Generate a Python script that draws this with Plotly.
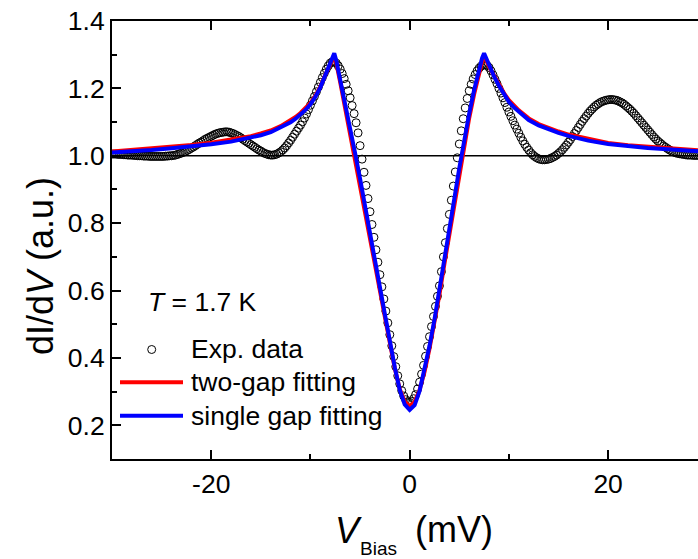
import plotly.graph_objects as go

# ---- measured tunnelling conductance (bias sweep, mV) ----
BIAS = [
    -30.0, -29.8, -29.6, -29.4, -29.2, -29.0, -28.8, -28.6, -28.4, -28.2,
    -28.0, -27.8, -27.6, -27.4, -27.2, -27.0, -26.8, -26.6, -26.4, -26.2,
    -26.0, -25.8, -25.6, -25.4, -25.2, -25.0, -24.8, -24.6, -24.4, -24.2,
    -24.0, -23.8, -23.6, -23.4, -23.2, -23.0, -22.8, -22.6, -22.4, -22.2,
    -22.0, -21.8, -21.6, -21.4, -21.2, -21.0, -20.8, -20.6, -20.4, -20.2,
    -20.0, -19.8, -19.6, -19.4, -19.2, -19.0, -18.8, -18.6, -18.4, -18.2,
    -18.0, -17.8, -17.6, -17.4, -17.2, -17.0, -16.8, -16.6, -16.4, -16.2,
    -16.0, -15.8, -15.6, -15.4, -15.2, -15.0, -14.8, -14.6, -14.4, -14.2,
    -14.0, -13.8, -13.6, -13.4, -13.2, -13.0, -12.8, -12.6, -12.4, -12.2,
    -12.0, -11.8, -11.6, -11.4, -11.2, -11.0, -10.8, -10.6, -10.4, -10.2,
    -10.0, -9.8, -9.6, -9.4, -9.2, -9.0, -8.8, -8.6, -8.4, -8.2,
    -8.0, -7.8, -7.6, -7.4, -7.2, -7.0, -6.8, -6.6, -6.4, -6.2,
    -6.0, -5.8, -5.6, -5.4, -5.2, -5.0, -4.8, -4.6, -4.4, -4.2,
    -4.0, -3.8, -3.6, -3.4, -3.2, -3.0, -2.8, -2.6, -2.4, -2.2,
    -2.0, -1.8, -1.6, -1.4, -1.2, -1.0, -0.8, -0.6, -0.4, -0.2,
    0.0, 0.2, 0.4, 0.6, 0.8, 1.0, 1.2, 1.4, 1.6, 1.8,
    2.0, 2.2, 2.4, 2.6, 2.8, 3.0, 3.2, 3.4, 3.6, 3.8,
    4.0, 4.2, 4.4, 4.6, 4.8, 5.0, 5.2, 5.4, 5.6, 5.8,
    6.0, 6.2, 6.4, 6.6, 6.8, 7.0, 7.2, 7.4, 7.6, 7.8,
    8.0, 8.2, 8.4, 8.6, 8.8, 9.0, 9.2, 9.4, 9.6, 9.8,
    10.0, 10.2, 10.4, 10.6, 10.8, 11.0, 11.2, 11.4, 11.6, 11.8,
    12.0, 12.2, 12.4, 12.6, 12.8, 13.0, 13.2, 13.4, 13.6, 13.8,
    14.0, 14.2, 14.4, 14.6, 14.8, 15.0, 15.2, 15.4, 15.6, 15.8,
    16.0, 16.2, 16.4, 16.6, 16.8, 17.0, 17.2, 17.4, 17.6, 17.8,
    18.0, 18.2, 18.4, 18.6, 18.8, 19.0, 19.2, 19.4, 19.6, 19.8,
    20.0, 20.2, 20.4, 20.6, 20.8, 21.0, 21.2, 21.4, 21.6, 21.8,
    22.0, 22.2, 22.4, 22.6, 22.8, 23.0, 23.2, 23.4, 23.6, 23.8,
    24.0, 24.2, 24.4, 24.6, 24.8, 25.0, 25.2, 25.4, 25.6, 25.8,
    26.0, 26.2, 26.4, 26.6, 26.8, 27.0, 27.2, 27.4, 27.6, 27.8,
    28.0, 28.2, 28.4, 28.6, 28.8, 29.0, 29.2, 29.4, 29.6, 29.8,
    30.0,
]

EXP_DIDV = [
    1.005, 1.005, 1.005, 1.004, 1.004, 1.004, 1.003, 1.003, 1.002, 1.002,
    1.002, 1.001, 1.001, 1.000, 1.000, 1.000, 0.999, 0.999, 0.999, 0.998,
    0.998, 0.998, 0.998, 0.998, 0.998, 0.998, 0.998, 0.999, 0.999, 1.000,
    1.000, 1.001, 1.002, 1.004, 1.006, 1.008, 1.010, 1.013, 1.016, 1.019,
    1.023, 1.026, 1.030, 1.034, 1.038, 1.041, 1.045, 1.049, 1.052, 1.055,
    1.058, 1.061, 1.064, 1.066, 1.068, 1.069, 1.070, 1.071, 1.071, 1.070,
    1.068, 1.066, 1.063, 1.060, 1.057, 1.053, 1.049, 1.045, 1.041, 1.037,
    1.033, 1.029, 1.025, 1.021, 1.017, 1.014, 1.010, 1.007, 1.005, 1.003,
    1.002, 1.002, 1.003, 1.005, 1.008, 1.012, 1.017, 1.023, 1.030, 1.038,
    1.046, 1.055, 1.064, 1.073, 1.082, 1.091, 1.101, 1.112, 1.124, 1.137,
    1.150, 1.163, 1.176, 1.190, 1.204, 1.218, 1.232, 1.245, 1.257, 1.267,
    1.275, 1.279, 1.279, 1.275, 1.267, 1.257, 1.244, 1.229, 1.212, 1.193,
    1.172, 1.149, 1.125, 1.098, 1.068, 1.030, 0.990, 0.951, 0.912, 0.873,
    0.834, 0.796, 0.758, 0.721, 0.684, 0.647, 0.611, 0.575, 0.539, 0.504,
    0.469, 0.436, 0.404, 0.374, 0.347, 0.323, 0.303, 0.287, 0.276, 0.270,
    0.268, 0.271, 0.279, 0.291, 0.308, 0.328, 0.352, 0.378, 0.405, 0.434,
    0.463, 0.493, 0.523, 0.553, 0.583, 0.614, 0.656, 0.700, 0.742, 0.784,
    0.826, 0.868, 0.910, 0.952, 0.994, 1.035, 1.074, 1.110, 1.142, 1.170,
    1.193, 1.212, 1.228, 1.241, 1.252, 1.260, 1.266, 1.269, 1.270, 1.268,
    1.262, 1.252, 1.240, 1.227, 1.214, 1.200, 1.186, 1.172, 1.158, 1.144,
    1.130, 1.117, 1.104, 1.091, 1.079, 1.067, 1.055, 1.044, 1.034, 1.025,
    1.017, 1.009, 1.003, 0.998, 0.994, 0.991, 0.989, 0.988, 0.988, 0.989,
    0.990, 0.992, 0.995, 0.998, 1.002, 1.007, 1.012, 1.018, 1.025, 1.032,
    1.040, 1.048, 1.057, 1.066, 1.075, 1.084, 1.093, 1.102, 1.110, 1.118,
    1.126, 1.133, 1.139, 1.145, 1.150, 1.154, 1.158, 1.161, 1.163, 1.165,
    1.166, 1.167, 1.167, 1.166, 1.165, 1.163, 1.160, 1.157, 1.153, 1.148,
    1.143, 1.138, 1.132, 1.126, 1.119, 1.112, 1.105, 1.098, 1.091, 1.084,
    1.077, 1.070, 1.063, 1.056, 1.050, 1.044, 1.039, 1.034, 1.029, 1.025,
    1.021, 1.017, 1.014, 1.011, 1.009, 1.007, 1.006, 1.005, 1.004, 1.003,
    1.002, 1.002, 1.002, 1.001, 1.001, 1.001, 1.001, 1.001, 1.001, 1.001,
    1.001,
]

# ---- fitted curves (bias, mV) ----
FIT_BIAS = [
    -30, -28, -26, -24, -22, -20, -18, -16, -15, -14, -13, -12,
    -11.5, -11, -10.5, -10, -9.5, -9, -8.5, -8.2, -8, -7.8, -7.6, -7.4,
    -7, -6.5, -6, -5.5, -5, -4.5, -4, -3.5, -3, -2.5, -2, -1.5, -1, -0.5, 0,
    0.5, 1, 1.5, 2, 2.5, 3, 3.5, 4, 4.5, 5, 5.5, 6, 6.5, 7,
    7.3, 7.5, 7.7, 8, 8.5, 9, 9.5, 10, 10.5, 11, 11.5, 12,
    13, 14, 15, 16, 18, 20, 22, 24, 26, 28, 30,
]

TWO_GAP_FIT = [
    1.013, 1.017, 1.021, 1.026, 1.032, 1.039, 1.047, 1.058, 1.066, 1.075, 1.088, 1.104,
    1.115, 1.127, 1.141, 1.157, 1.178, 1.205, 1.240, 1.260, 1.272, 1.284, 1.292, 1.276,
    1.218, 1.142, 1.068, 0.994, 0.918, 0.841, 0.760, 0.677, 0.600, 0.522, 0.443, 0.369, 0.308, 0.270, 0.257,
    0.269, 0.305, 0.359, 0.428, 0.502, 0.588, 0.679, 0.768, 0.858, 0.948, 1.034, 1.112, 1.183, 1.246,
    1.279, 1.292, 1.284, 1.265, 1.238, 1.211, 1.186, 1.165, 1.149, 1.135, 1.123, 1.111,
    1.094, 1.082, 1.072, 1.063, 1.049, 1.038, 1.031, 1.026, 1.021, 1.017, 1.014,
]

SINGLE_GAP_FIT = [
    1.010, 1.013, 1.017, 1.022, 1.027, 1.034, 1.042, 1.053, 1.061, 1.070, 1.083, 1.099,
    1.110, 1.122, 1.136, 1.153, 1.175, 1.203, 1.240, 1.262, 1.277, 1.292, 1.304, 1.283,
    1.228, 1.155, 1.082, 1.008, 0.932, 0.855, 0.772, 0.688, 0.610, 0.530, 0.449, 0.372, 0.305, 0.262, 0.246,
    0.260, 0.302, 0.364, 0.436, 0.514, 0.600, 0.692, 0.782, 0.872, 0.963, 1.048, 1.125, 1.195, 1.258,
    1.290, 1.304, 1.290, 1.266, 1.236, 1.208, 1.182, 1.160, 1.144, 1.130, 1.118, 1.106,
    1.090, 1.078, 1.068, 1.059, 1.045, 1.035, 1.028, 1.023, 1.019, 1.015, 1.012,
]

X_TICKS = [-20, 0, 20]
X_TICK_TEXT = ["-20", "0", "20"]
X_MINOR = [-10, 10]
Y_TICKS = [0.2, 0.4, 0.6, 0.8, 1.0, 1.2, 1.4]
Y_TICK_TEXT = ["0.2", "0.4", "0.6", "0.8", "1.0", "1.2", "1.4"]
Y_MINOR = [0.3, 0.5, 0.7, 0.9, 1.1, 1.3]

LEGEND_LABELS = ["Exp. data", "two-gap fitting", "single gap fitting"]
TEMPERATURE_LABEL = "<i>T</i> = 1.7 K"

FONT = "Liberation Sans, Arial, Helvetica, sans-serif"
RED = "#ff0000"
BLUE = "#0000ff"

# plot-area geometry in pixels
W, H = 698, 559
L, R, T, B = 112, 0, 21, 100
PW, PH = W - L - R, H - T - B


def px(xp):
    return (xp - L) / PW


def py(yp):
    return (H - B - yp) / PH


fig = go.Figure()

fig.add_trace(go.Scatter(
    x=BIAS, y=EXP_DIDV, mode="markers", name=LEGEND_LABELS[0],
    marker=dict(symbol="circle-open", size=8, color="black", line=dict(width=1, color="black")),
))
fig.add_trace(go.Scatter(
    x=FIT_BIAS, y=TWO_GAP_FIT, mode="lines", name=LEGEND_LABELS[1],
    line=dict(color=RED, width=4),
))
fig.add_trace(go.Scatter(
    x=FIT_BIAS, y=SINGLE_GAP_FIT, mode="lines", name=LEGEND_LABELS[2],
    line=dict(color=BLUE, width=4),
))

# reference level dI/dV = 1
fig.add_shape(type="line", xref="paper", x0=0, x1=1, yref="y", y0=1.0, y1=1.0,
              line=dict(color="black", width=1.5), layer="below")

# hand-placed legend keys
fig.add_shape(type="circle", xref="paper", yref="paper", xsizemode="pixel", ysizemode="pixel",
              xanchor=px(151.7), yanchor=py(349.5), x0=-4, x1=4, y0=-4, y1=4,
              line=dict(color="black", width=1))
fig.add_shape(type="line", xref="paper", yref="paper", x0=px(120), x1=px(183),
              y0=py(382.3), y1=py(382.3), line=dict(color=RED, width=4))
fig.add_shape(type="line", xref="paper", yref="paper", x0=px(120), x1=px(183),
              y0=py(415.7), y1=py(415.7), line=dict(color=BLUE, width=4))

text_font = dict(family=FONT, size=26.5, color="black")
legend_rows = [(TEMPERATURE_LABEL, 146, 301.7),
               (LEGEND_LABELS[0], 189, 349.2),
               (LEGEND_LABELS[1], 189, 381.7),
               (LEGEND_LABELS[2], 189, 415.5)]
for txt, xp, yp in legend_rows:
    fig.add_annotation(text=txt, xref="paper", yref="paper", x=px(xp), y=py(yp),
                       xanchor="left", yanchor="middle", showarrow=False, font=text_font)

# axis titles
title_font = dict(family=FONT, size=36, color="black")
fig.add_annotation(text="dI/d<i>V</i> (a.u.)", xref="paper", yref="paper",
                   x=px(40), y=py(266), textangle=-90, xanchor="center", yanchor="middle",
                   showarrow=False, font=title_font)
fig.add_annotation(text="<i>V</i>", xref="paper", yref="paper", x=px(334), y=py(530),
                   xanchor="left", yanchor="middle", showarrow=False, borderpad=0,
                   font=title_font)
fig.add_annotation(text="Bias", xref="paper", yref="paper", x=px(358.5), y=py(548.5),
                   xanchor="left", yanchor="middle", showarrow=False, borderpad=0,
                   font=dict(family=FONT, size=19, color="black"))
fig.add_annotation(text="(mV)", xref="paper", yref="paper", x=px(413), y=py(529),
                   xanchor="left", yanchor="middle", showarrow=False, font=title_font)

axis_common = dict(
    showgrid=False, zeroline=False, showline=True, linecolor="black", linewidth=2,
    ticks="inside", ticklen=9, tickwidth=1.5, tickcolor="black",
    tickfont=dict(family=FONT, size=26.5, color="black"),
)
fig.update_xaxes(range=[-30, 29.06], tickmode="array", tickvals=X_TICKS, ticktext=X_TICK_TEXT,
                 mirror="ticks",
                 minor=dict(tickmode="array", tickvals=X_MINOR, ticks="inside", ticklen=5,
                            tickwidth=1.5, tickcolor="black"),
                 **axis_common)
fig.update_yaxes(range=[0.1, 1.4], tickmode="array", tickvals=Y_TICKS, ticktext=Y_TICK_TEXT,
                 mirror=False,
                 minor=dict(tickmode="array", tickvals=Y_MINOR, ticks="inside", ticklen=5,
                            tickwidth=1.5, tickcolor="black"),
                 **axis_common)

fig.update_layout(
    width=W, height=H, margin=dict(l=L, r=R, t=T, b=B, pad=0),
    plot_bgcolor="white", paper_bgcolor="white", showlegend=False,
    font=dict(family=FONT, color="black"),
)

fig.write_html("out.html")
